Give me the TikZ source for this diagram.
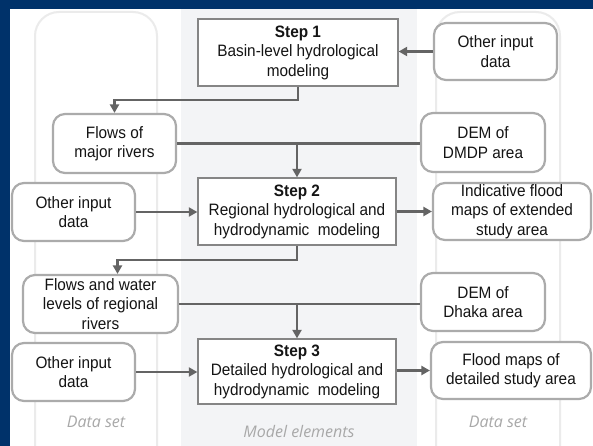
\documentclass[tikz,border=0pt]{standalone}
\usepackage{fontspec}
\setmainfont[FakeStretch=0.93]{Liberation Sans}
\newfontfamily\captfont{Open Sans}
\usetikzlibrary{arrows.meta}
\definecolor{frameblue}{HTML}{00326A}
\definecolor{colbg}{HTML}{F3F4F6}
\definecolor{colline}{HTML}{EBEBEB}
\definecolor{dataedge}{HTML}{ABABAB}
\definecolor{stepedge}{HTML}{858585}
\definecolor{arrgray}{HTML}{646464}
\definecolor{txt}{HTML}{141414}
\definecolor{capt}{HTML}{A8A8A8}
\tikzset{
  boxfont/.style={font=\fontsize{16.5}{19.5}\selectfont, text=txt, align=center, inner sep=0pt},
  databox/.style={boxfont, draw=dataedge, line width=2.2pt, fill=white, rounded corners=12pt},
  stepbox/.style={boxfont, draw=stepedge, line width=1.3pt, fill=white},
  arr/.style={draw=arrgray, line width=2.2pt, -{Triangle[length=8.5pt,width=9pt]}},
  plainline/.style={draw=arrgray, line width=2.2pt},
  colframe/.style={draw=colline, line width=2pt, rounded corners=24pt},
  caption/.style={font=\captfont\itshape\fontsize{16}{18}\selectfont, text=capt}
}
\begin{document}
\begin{tikzpicture}[x=1pt,y=-1pt]
\useasboundingbox (0,0) rectangle (593,446);
\clip (0,0) rectangle (593,446);
\fill[white] (0,0) rectangle (593,446);
\fill[colbg] (181,9) rectangle (417,446);
\draw[colframe] (35,12) rectangle (157,480);
\draw[colframe] (436,12) rectangle (560,480);
\fill[frameblue] (0,0) rectangle (593,9);
\fill[frameblue] (0,0) rectangle (10,446);

\node[caption] (capl) at (96,422) {Data set};
\node[caption] (capm) at (299,431) {Model elements};
\node[caption] (capr) at (498,422) {Data set};

\node[stepbox, minimum width=200pt, minimum height=67pt] (step1) at (298,52.5)
  {\textbf{Step 1}\\Basin-level hydrological\\modeling};
\node[databox, minimum width=123pt, minimum height=57pt] (oth1) at (495.5,51.5)
  {Other input\\data};
\node[databox, minimum width=123pt, minimum height=59pt] (flow1) at (114.5,143.5)
  {Flows of\\major rivers};
\node[databox, minimum width=124pt, minimum height=59pt] (dem1) at (483,142.5)
  {DEM of\\DMDP area};
\node[stepbox, minimum width=198pt, minimum height=67pt] (step2) at (297,211.5)
  {\textbf{Step 2}\\Regional hydrological and\\hydrodynamic\hspace{0.25em} modeling};
\node[databox, minimum width=123pt, minimum height=58pt] (oth2) at (73.5,212)
  {Other input\\data};
\node[databox, minimum width=158pt, minimum height=57pt] (ind) at (512,211.5)
  {Indicative flood\\maps of extended\\study area};
\node[databox, minimum width=155pt, minimum height=58pt] (flow2) at (100.5,304)
  {Flows and water\\levels of regional\\rivers};
\node[databox, minimum width=124pt, minimum height=58pt] (dem2) at (483,302)
  {DEM of\\Dhaka area};
\node[stepbox, minimum width=198pt, minimum height=65pt] (step3) at (297,371.5)
  {\textbf{Step 3}\\Detailed hydrological and\\hydrodynamic\hspace{0.25em} modeling};
\node[databox, minimum width=123pt, minimum height=58pt] (oth3) at (73.5,372)
  {Other input\\data};
\node[databox, minimum width=160pt, minimum height=57pt] (flood) at (511,370.5)
  {Flood maps of\\detailed study area};

% connectors
\draw[arr] (oth1.west) -- (oth1.west -| step1.east);
\draw[arr] (step1.south) -- ++(0,13.5) -| (flow1.north);
\draw[plainline] (flow1.east) -- (flow1.east -| dem1.west);
\draw[arr] (step2.north |- flow1.east) -- (step2.north);
\draw[arr] (oth2.east) -- (oth2.east -| step2.west);
\draw[arr] (step2.east |- ind.west) -- (ind.west);
\coordinate (f2in) at ([xshift=17pt]flow2.north);
\draw[arr] (step2.south) -- ++(0,14) -| (f2in);
\draw[plainline] (flow2.east) -- (flow2.east -| dem2.west);
\draw[arr] (step3.north |- flow2.east) -- (step3.north);
\draw[arr] (oth3.east) -- (oth3.east -| step3.west);
\draw[arr] (step3.east |- flood.west) -- (flood.west);
\end{tikzpicture}
\end{document}
